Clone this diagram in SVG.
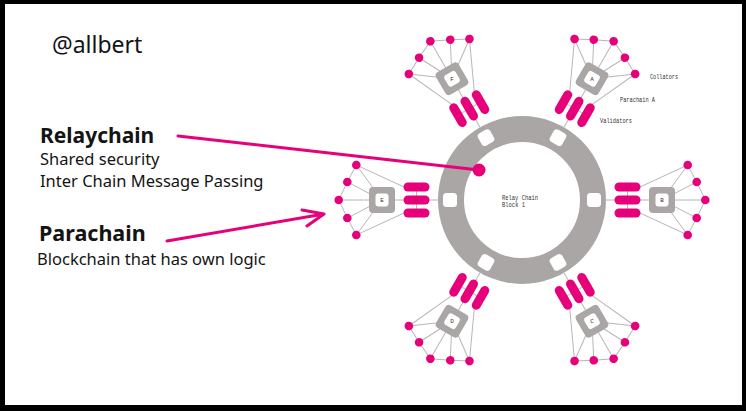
<svg xmlns="http://www.w3.org/2000/svg" xmlns:xlink="http://www.w3.org/1999/xlink" width="746" height="411" viewBox="0 0 746 411">
<style>
.ln{stroke:#b8b6b6;stroke-width:1;fill:none}
.pk{fill:#e6007a}
.gr{fill:#aaa6a6}
.wh{fill:#ffffff}
.lab{font-family:"Noto Sans","Liberation Sans",sans-serif;fill:#141414}
.mono{font-family:"Liberation Mono","DejaVu Sans Mono",monospace;font-size:6.5px;fill:#333}
.let{font-family:"Liberation Mono","DejaVu Sans Mono",monospace;font-size:6px;fill:#333;text-anchor:middle}
.arr{stroke:#e6007a;stroke-width:3;stroke-linecap:round;stroke-linejoin:round;fill:none}
</style>
<defs>
<g id="pc-lines">
<path class="ln" d="M83 0H140M105.5 -13V13M140 0L165.7 -35M140 0L174.7 -18M140 0L183.3 0M140 0L174.7 18M140 0L165.7 35M118 -13L165.7 -35M118 13L165.7 35"/>
<polyline class="ln" points="165.7,-35 174.7,-18 183.3,0 174.7,18 165.7,35"/>
</g>
<g id="pc-body">
<rect class="pk" x="92.5" y="-17.5" width="26" height="9" rx="4.5"/>
<rect class="pk" x="92.5" y="-4.5" width="26" height="9" rx="4.5"/>
<rect class="pk" x="92.5" y="8.5" width="26" height="9" rx="4.5"/>
<rect class="gr" x="127" y="-13" width="26" height="26" rx="4"/>
<rect class="wh" x="133.5" y="-6.5" width="13" height="13" rx="3"/>
<circle class="pk" cx="165.7" cy="-35" r="4.3"/>
<circle class="pk" cx="174.7" cy="-18" r="4.3"/>
<circle class="pk" cx="183.3" cy="0" r="4.3"/>
<circle class="pk" cx="174.7" cy="18" r="4.3"/>
<circle class="pk" cx="165.7" cy="35" r="4.3"/>
</g>
<rect id="slot" class="wh" x="65" y="-7" width="14" height="14" rx="3.5"/>
</defs>
<rect x="0" y="0" width="746" height="411" fill="#000"/>
<rect x="5" y="4" width="737" height="401" fill="#fff"/>
<text class="lab" x="52" y="53" font-size="23">@allbert</text>
<text class="lab" x="40" y="143" font-size="21" font-weight="bold">Relaychain</text>
<text class="lab" x="40" y="165" font-size="16.5">Shared security</text>
<text class="lab" x="40" y="187" font-size="16.5">Inter Chain Message Passing</text>
<text class="lab" x="39" y="241" font-size="21.5" font-weight="bold">Parachain</text>
<text class="lab" x="37" y="265" font-size="16.5">Blockchain that has own logic</text>
<g id="relay-chain">
<circle cx="522" cy="200" r="71" fill="none" stroke="#aaa6a6" stroke-width="26"/>
<g transform="translate(522 200)">
<use xlink:href="#slot"/>
<use xlink:href="#slot" transform="rotate(-60)"/>
<use xlink:href="#slot" transform="rotate(-120)"/>
<use xlink:href="#slot" transform="rotate(180)"/>
<use xlink:href="#slot" transform="rotate(120)"/>
<use xlink:href="#slot" transform="rotate(60)"/>
</g>
<text class="mono" x="502" y="199.5" textLength="36" lengthAdjust="spacingAndGlyphs">Relay Chain</text>
<text class="mono" x="502" y="206.5" textLength="23" lengthAdjust="spacingAndGlyphs">Block 1</text>
</g>
<g id="connectors" transform="translate(522 200)">
<use xlink:href="#pc-lines"/>
<use xlink:href="#pc-lines" transform="rotate(-60)"/>
<use xlink:href="#pc-lines" transform="rotate(-120)"/>
<use xlink:href="#pc-lines" transform="rotate(180)"/>
<use xlink:href="#pc-lines" transform="rotate(120)"/>
<use xlink:href="#pc-lines" transform="rotate(60)"/>
</g>
<g id="parachain-b">
<use xlink:href="#pc-body" transform="translate(522 200)"/>
<text class="let" x="662" y="202">B</text>
</g>
<g id="parachain-a">
<use xlink:href="#pc-body" transform="translate(522 200) rotate(-60)"/>
<text class="let" x="592" y="80.8">A</text>
<text class="mono" x="650" y="79" textLength="28" lengthAdjust="spacingAndGlyphs">Collators</text>
<text class="mono" x="620" y="102" textLength="35" lengthAdjust="spacingAndGlyphs">Parachain A</text>
<text class="mono" x="600" y="123" textLength="32" lengthAdjust="spacingAndGlyphs">Validators</text>
</g>
<g id="parachain-f">
<use xlink:href="#pc-body" transform="translate(522 200) rotate(-120)"/>
<text class="let" x="452" y="80.8">F</text>
</g>
<g id="parachain-e">
<use xlink:href="#pc-body" transform="translate(522 200) rotate(180)"/>
<text class="let" x="382" y="202">E</text>
</g>
<g id="parachain-d">
<use xlink:href="#pc-body" transform="translate(522 200) rotate(120)"/>
<text class="let" x="452" y="323.2">D</text>
</g>
<g id="parachain-c">
<use xlink:href="#pc-body" transform="translate(522 200) rotate(60)"/>
<text class="let" x="592" y="323.2">C</text>
</g>
<g id="callouts">
<path class="arr" d="M178 136L479 170"/>
<circle class="pk" cx="479" cy="170" r="6.5"/>
<path class="arr" d="M167 241L324 214M302 210L324 214L307 226"/>
</g>
</svg>
